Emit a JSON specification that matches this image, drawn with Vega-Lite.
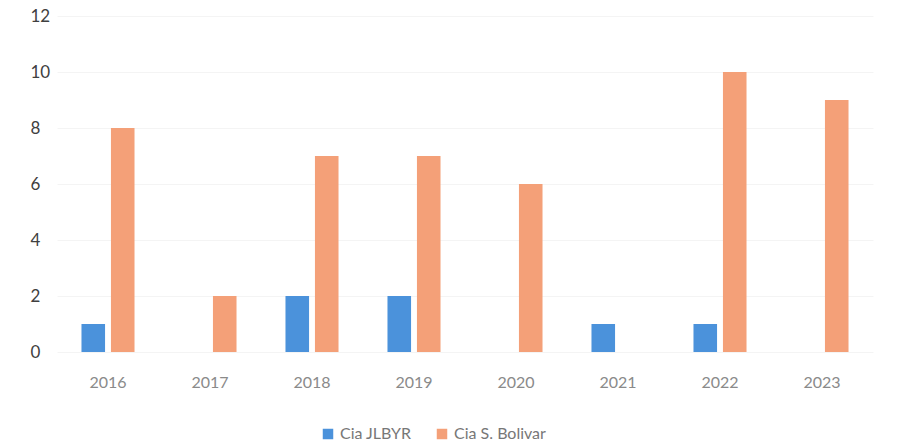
{
  "$schema": "https://vega.github.io/schema/vega-lite/v6.json",
  "autosize": "none",
  "width": 816,
  "height": 336,
  "padding": {"left": 57, "top": 16, "right": 28, "bottom": 96},
  "background": "white",
  "config": {"view": {"stroke": null}, "font": "Lato"},
  "data": {
    "values": [
      {"year": "2016", "series": "Cia JLBYR", "value": 1},
      {"year": "2016", "series": "Cia S. Bolivar", "value": 8},
      {"year": "2017", "series": "Cia S. Bolivar", "value": 2},
      {"year": "2018", "series": "Cia JLBYR", "value": 2},
      {"year": "2018", "series": "Cia S. Bolivar", "value": 7},
      {"year": "2019", "series": "Cia JLBYR", "value": 2},
      {"year": "2019", "series": "Cia S. Bolivar", "value": 7},
      {"year": "2020", "series": "Cia S. Bolivar", "value": 6},
      {"year": "2021", "series": "Cia JLBYR", "value": 1},
      {"year": "2022", "series": "Cia JLBYR", "value": 1},
      {"year": "2022", "series": "Cia S. Bolivar", "value": 10},
      {"year": "2023", "series": "Cia S. Bolivar", "value": 9}
    ]
  },
  "mark": {"type": "bar"},
  "encoding": {
    "x": {
      "field": "year", "type": "nominal",
      "scale": {"paddingInner": 0.48, "paddingOuter": 0.24},
      "axis": {"title": null, "labelAngle": 0, "domain": false, "ticks": false, "labelPadding": 22, "labelFontSize": 16, "labelColor": "#8a8a8a", "grid": false}
    },
    "xOffset": {"field": "series", "type": "nominal", "scale": {"domain": ["Cia JLBYR", "Cia S. Bolivar"], "paddingInner": 0.2}},
    "y": {
      "field": "value", "type": "quantitative",
      "scale": {"domain": [0, 12]},
      "axis": {"title": null, "values": [0, 2, 4, 6, 8, 10, 12], "domain": false, "ticks": false, "labelAlign": "left", "labelPadding": 27, "labelFontSize": 17, "labelColor": "#404040", "gridColor": "#f4f4f4", "gridWidth": 1}
    },
    "color": {
      "field": "series", "type": "nominal",
      "scale": {"domain": ["Cia JLBYR", "Cia S. Bolivar"], "range": ["#4B92DB", "#F4A078"]},
      "legend": {"title": null, "orient": "none", "legendX": 263, "legendY": 410, "direction": "horizontal", "symbolType": "square", "symbolSize": 110, "labelFontSize": 16, "labelColor": "#777777", "columnPadding": 22, "labelOffset": 4}
    }
  }
}
